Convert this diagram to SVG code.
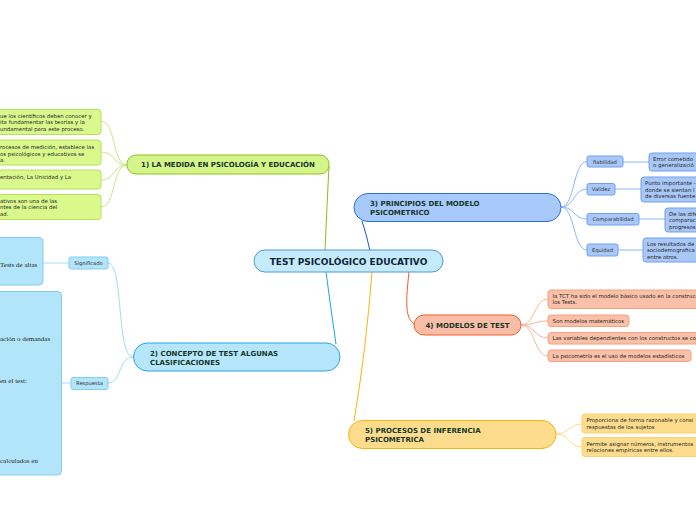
<svg xmlns="http://www.w3.org/2000/svg" width="696" height="520" viewBox="0 0 696 520">
<style>
.main{font-family:"DejaVu Sans",Verdana,sans-serif;font-weight:bold;font-size:7px;fill:#163628}
.ctr{font-family:"DejaVu Sans",Verdana,sans-serif;font-weight:bold;font-size:9px;fill:#0f2438}
.sm{font-family:"DejaVu Sans",Verdana,sans-serif;font-size:5.4px;fill:#262626}
.lab{font-family:"DejaVu Sans",Verdana,sans-serif;font-size:5.2px;fill:#2e2e2e}
.ser{font-family:"Liberation Serif","Times New Roman",serif;font-size:7px;fill:#1e1e1e}
.c{fill:none;stroke-width:1}
</style>
<rect width="696" height="520" fill="#ffffff"/>
<g id="connectors">
<path class="c" d="M325,251 Q327,205 329,166" stroke="#8cbc1e" stroke-width="1.3"/>
<path class="c" d="M370,251 Q367,236 362,221" stroke="#1558d6" stroke-width="1.3"/>
<path class="c" d="M409,272 C406,300 404,320 416,325" stroke="#f05a22" stroke-width="1.3"/>
<path class="c" d="M372,272 Q366,350 354,421" stroke="#fbb40a" stroke-width="1.3"/>
<path class="c" d="M326,272 Q331,310 336,344" stroke="#1ea4e6" stroke-width="1.3"/>
<g stroke="#c8e886">
<path class="c" d="M127,165 C112,165 116,121 101,121"/>
<path class="c" d="M127,165 C112,165 116,152 101,152"/>
<path class="c" d="M127,165 C112,165 116,180 101,180"/>
<path class="c" d="M127,165 C112,165 116,207 101,207"/>
</g>
<g stroke="#8cb6f5">
<path class="c" d="M561,207 C575,207 573,161.5 587,161.5"/>
<path class="c" d="M561,207 C575,207 573,189 587,189"/>
<path class="c" d="M561,207 C575,207 573,219 587,219"/>
<path class="c" d="M561,207 C575,207 573,250 587,250"/>
<path class="c" d="M623,162 L649,162"/>
<path class="c" d="M615,189 L641,189"/>
<path class="c" d="M639,219 L665,219"/>
<path class="c" d="M618,250 L643,250"/>
</g>
<g stroke="#f8b49a">
<path class="c" d="M521,325 C535,325 534,299 548,299"/>
<path class="c" d="M521,325 C535,325 534,321 548,321"/>
<path class="c" d="M521,325 C535,325 534,338 548,338"/>
<path class="c" d="M521,325 C535,325 534,356 548,356"/>
</g>
<g stroke="#fcd98a">
<path class="c" d="M556,434 C569,434 569,424 582,424"/>
<path class="c" d="M556,434 C569,434 569,447 582,447"/>
</g>
<g stroke="#a0dcf6">
<path class="c" d="M133,357 C116,357 124,263 108,263"/>
<path class="c" d="M133,357 C118,357 122,383 108,383"/>
<path class="c" d="M69,263 L43,263"/>
<path class="c" d="M71,383 L62,383"/>
</g>
</g>
<g id="center">
<rect x="254" y="250" width="189" height="22" rx="11" fill="#c5ebfb" stroke="#4a9ad6"/>
<text class="ctr" x="348.5" y="264.8" text-anchor="middle">TEST PSICOLÓGICO EDUCATIVO</text>
</g>
<g id="n1">
<rect x="127" y="155" width="202" height="19" rx="9" fill="#d5f58a" stroke="#8dc21f"/>
<text class="main" x="228" y="167.3" text-anchor="middle">1) LA MEDIDA EN PSICOLOGÍA Y EDUCACIÓN</text>
</g>
<g id="n1a">
<rect x="-10" y="109.5" width="111" height="25" rx="3" fill="#d9f98c" stroke="#b6e05a"/>
<text class="sm" x="0" y="117.5">ue los científicos deben conocer y</text>
<text class="sm" x="0" y="124">ita fundamentar las teorías y la</text>
<text class="sm" x="0" y="130.5">undamental para este proceso.</text>
</g>
<g id="n1b">
<rect x="-10" y="140" width="111" height="25" rx="3" fill="#d9f98c" stroke="#b6e05a"/>
<text class="sm" x="0" y="149">rocesos de medición, establece las</text>
<text class="sm" x="0" y="155.5">os psicológicos y educativos se</text>
<text class="sm" x="0" y="162">a.</text>
</g>
<g id="n1c">
<rect x="-10" y="170" width="111" height="19" rx="3" fill="#d9f98c" stroke="#b6e05a"/>
<text class="sm" x="0" y="179">entación, La Unicidad y La</text>
</g>
<g id="n1d">
<rect x="-10" y="194.5" width="111" height="25" rx="3" fill="#d9f98c" stroke="#b6e05a"/>
<text class="sm" x="0" y="202.5">ativos son una de las</text>
<text class="sm" x="0" y="209">ntes de la ciencia del</text>
<text class="sm" x="0" y="215.5">ad.</text>
</g>
<g id="n3">
<rect x="354" y="193.5" width="207" height="28" rx="14" fill="#a7c9fb" stroke="#2e6fd6"/>
<text class="main" x="370" y="205.5">3) PRINCIPIOS DEL MODELO</text>
<text class="main" x="370" y="214.5">PSICOMETRICO</text>
</g>
<g id="n3a">
<rect x="587" y="156" width="36" height="11" rx="2" fill="#a9c8f8" stroke="#6fa0ef"/>
<text class="lab" x="605" y="163.5" text-anchor="middle">fiabilidad</text>
</g>
<g id="n3b">
<rect x="587" y="183.5" width="28" height="11.5" rx="2" fill="#a9c8f8" stroke="#6fa0ef"/>
<text class="lab" x="601" y="191" text-anchor="middle">Validez</text>
</g>
<g id="n3c">
<rect x="587" y="213.5" width="52" height="11.5" rx="2" fill="#a9c8f8" stroke="#6fa0ef"/>
<text class="lab" x="613" y="221" text-anchor="middle">Comparabilidad</text>
</g>
<g id="n3d">
<rect x="587" y="244" width="31" height="12" rx="2" fill="#a9c8f8" stroke="#6fa0ef"/>
<text class="lab" x="602.5" y="251.8" text-anchor="middle">Equidad</text>
</g>
<g id="n3a1">
<rect x="649" y="153" width="60" height="18" rx="3" fill="#a9c8f8" stroke="#6fa0ef"/>
<text class="sm" x="653" y="160.5">Error cometido</text>
<text class="sm" x="653" y="167">o generalizació</text>
</g>
<g id="n3b1">
<rect x="641" y="177" width="70" height="25" rx="3" fill="#a9c8f8" stroke="#6fa0ef"/>
<text class="sm" x="645" y="185">Punto importante -</text>
<text class="sm" x="645" y="191.5">donde se sientan l</text>
<text class="sm" x="645" y="198">de diversas fuente</text>
</g>
<g id="n3c1">
<rect x="665" y="208" width="50" height="24" rx="3" fill="#a9c8f8" stroke="#6fa0ef"/>
<text class="sm" x="669" y="215.5">De las dife</text>
<text class="sm" x="669" y="222">comparaci</text>
<text class="sm" x="669" y="228.5">progresos</text>
</g>
<g id="n3d1">
<rect x="643" y="238" width="70" height="24" rx="3" fill="#a9c8f8" stroke="#6fa0ef"/>
<text class="sm" x="647" y="245.5">Los resultados de</text>
<text class="sm" x="647" y="252">sociodemografica</text>
<text class="sm" x="647" y="258.5">entre otros.</text>
</g>
<g id="n4">
<rect x="414" y="315" width="107" height="20" rx="10" fill="#f9bda7" stroke="#f0602a"/>
<text class="main" x="467.5" y="327.5" text-anchor="middle">4) MODELOS DE TEST</text>
</g>
<g id="n4a">
<rect x="548" y="290" width="160" height="18.5" rx="3" fill="#fac0a8" stroke="#f5a080"/>
<text class="sm" x="552.5" y="297.5">la TCT ha sido el modelo básico usado en la construcción</text>
<text class="sm" x="552.5" y="304">los Tests.</text>
</g>
<g id="n4b">
<rect x="548" y="315" width="81" height="11.5" rx="3" fill="#fac0a8" stroke="#f5a080"/>
<text class="sm" x="552.5" y="322.5">Son modelos matemáticos</text>
</g>
<g id="n4c">
<rect x="548" y="332.5" width="160" height="11.5" rx="3" fill="#fac0a8" stroke="#f5a080"/>
<text class="sm" x="552.5" y="340">Las variables dependientes con los constructos se co</text>
</g>
<g id="n4d">
<rect x="548" y="350" width="143" height="11.5" rx="3" fill="#fac0a8" stroke="#f5a080"/>
<text class="sm" x="552.5" y="357.5">La psicometría es el uso de modelos estadísticos</text>
</g>
<g id="n5">
<rect x="348.5" y="420.5" width="207.5" height="28" rx="14" fill="#fddd8d" stroke="#f5b50a"/>
<text class="main" x="365" y="432.5">5) PROCESOS DE INFERENCIA</text>
<text class="main" x="365" y="441.5">PSICOMETRICA</text>
</g>
<g id="n5a">
<rect x="582" y="414" width="130" height="19" rx="3" fill="#fddd8d" stroke="#f8d070"/>
<text class="sm" x="586.5" y="422">Proporciona de forma razonable y consi</text>
<text class="sm" x="586.5" y="428.5">respuestas de los sujetos</text>
</g>
<g id="n5b">
<rect x="582" y="437.5" width="130" height="19" rx="3" fill="#fddd8d" stroke="#f8d070"/>
<text class="sm" x="586.5" y="445.5">Permite asignar números, instrumentos</text>
<text class="sm" x="586.5" y="452">relaciones empíricas entre ellos.</text>
</g>
<g id="n2">
<rect x="133.5" y="343" width="206.5" height="28" rx="14" fill="#b5e6fb" stroke="#2ba6e0"/>
<text class="main" x="150" y="356">2) CONCEPTO DE TEST ALGUNAS</text>
<text class="main" x="150" y="364.5">CLASIFICACIONES</text>
</g>
<g id="n2a">
<rect x="69" y="257" width="39" height="12" rx="2" fill="#b3e5fa" stroke="#80cff0"/>
<text class="lab" x="88.5" y="264.8" text-anchor="middle">Significado</text>
</g>
<g id="n2b">
<rect x="71" y="377.5" width="37" height="12" rx="2" fill="#b3e5fa" stroke="#80cff0"/>
<text class="lab" x="89.5" y="385.3" text-anchor="middle">Respuesta</text>
</g>
<g id="n2a1">
<rect x="-10" y="237.5" width="53" height="47.5" rx="4" fill="#b3e5fa" stroke="#80cff0"/>
<text class="ser" x="0" y="266.5">Tests de altas</text>
</g>
<g id="n2b1">
<rect x="-10" y="291.5" width="71.5" height="183.5" rx="4" fill="#b3e5fa" stroke="#80cff0"/>
<text class="ser" x="0" y="341">ación o demandas</text>
<text class="ser" x="0" y="382.5">en el test:</text>
<text class="ser" x="0" y="462.5">calculados en</text>
</g>
</svg>
